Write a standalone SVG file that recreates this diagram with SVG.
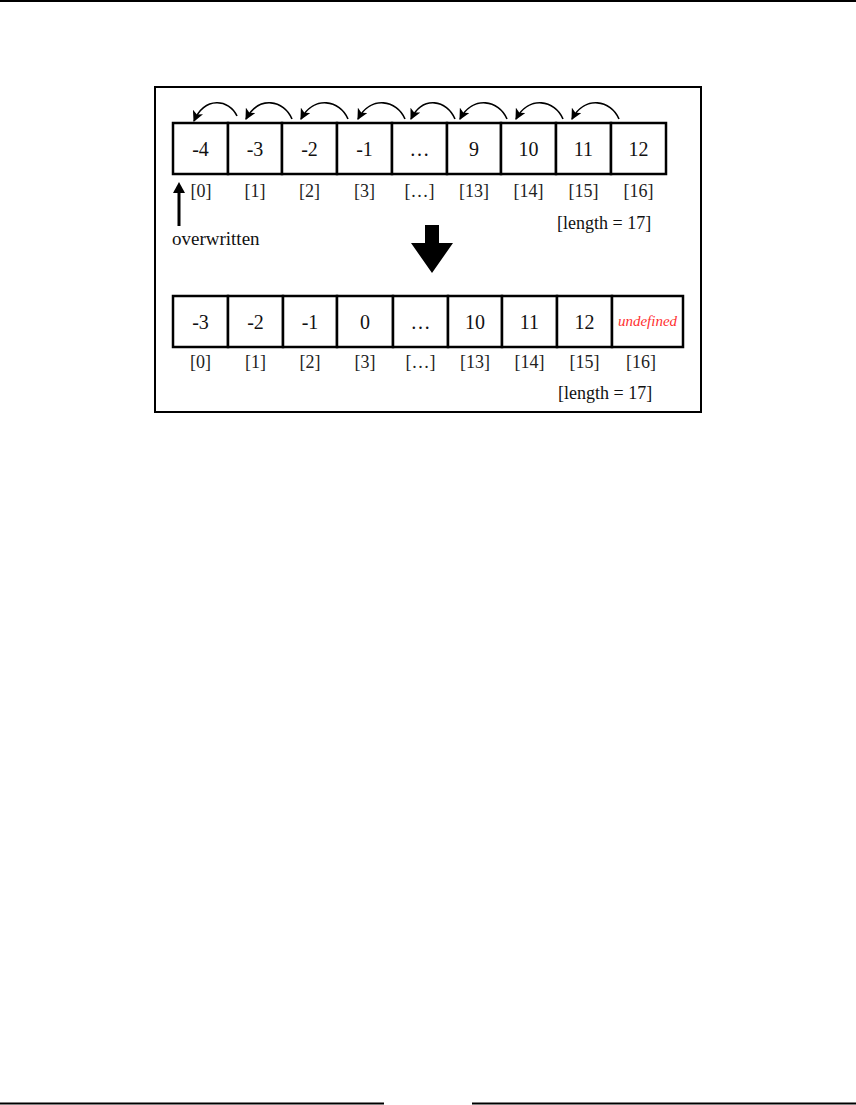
<svg xmlns="http://www.w3.org/2000/svg" width="856" height="1105" viewBox="0 0 856 1105">
<style>
.cell{fill:#fff;stroke:#000;stroke-width:2.5}
.v{font-family:"Liberation Serif",serif;font-size:20px;fill:#111;text-anchor:middle}
.i{font-family:"Liberation Serif",serif;font-size:18px;fill:#222;text-anchor:middle}
.t{font-family:"Liberation Serif",serif;font-size:18px;fill:#111}
.arc{fill:none;stroke:#000;stroke-width:1.6}
.und{font-family:"Liberation Serif",serif;font-size:15px;font-style:italic;fill:#ff3030;text-anchor:middle}
</style>
<defs>
<marker id="ah" markerUnits="userSpaceOnUse" markerWidth="11" markerHeight="11" refX="9" refY="5" viewBox="0 0 10 10" orient="auto">
<path d="M0,0 L10,5 L0,10 L2.5,5 z" fill="#000"/>
</marker>
</defs>
<rect x="0" y="0" width="856" height="2" fill="#000"/>
<rect x="0" y="1102.5" width="384" height="2" fill="#000"/>
<rect x="472" y="1102.5" width="384" height="2" fill="#000"/>
<rect x="155" y="87" width="546" height="325" fill="#fff" stroke="#000" stroke-width="2"/>

<g id="top-array">
<rect class="cell" x="173" y="123" width="55" height="51"/>
<rect class="cell" x="228" y="123" width="54" height="51"/>
<rect class="cell" x="282" y="123" width="55" height="51"/>
<rect class="cell" x="337" y="123" width="55" height="51"/>
<rect class="cell" x="392" y="123" width="55" height="51"/>
<rect class="cell" x="447" y="123" width="54" height="51"/>
<rect class="cell" x="501" y="123" width="55" height="51"/>
<rect class="cell" x="556" y="123" width="55" height="51"/>
<rect class="cell" x="611" y="123" width="55" height="51"/>
<text class="v" x="200.5" y="156">-4</text>
<text class="v" x="255" y="156">-3</text>
<text class="v" x="309.5" y="156">-2</text>
<text class="v" x="364.5" y="156">-1</text>
<text class="v" x="419.5" y="156">…</text>
<text class="v" x="474" y="156">9</text>
<text class="v" x="528.5" y="156">10</text>
<text class="v" x="583.5" y="156">11</text>
<text class="v" x="638.5" y="156">12</text>
<text class="i" x="201" y="197">[0]</text>
<text class="i" x="255" y="197">[1]</text>
<text class="i" x="309.5" y="197">[2]</text>
<text class="i" x="364.5" y="197">[3]</text>
<text class="i" x="419.5" y="197">[…]</text>
<text class="i" x="474" y="197">[13]</text>
<text class="i" x="528.5" y="197">[14]</text>
<text class="i" x="583.5" y="197">[15]</text>
<text class="i" x="638.5" y="197">[16]</text>
<text class="t" x="557" y="229">[length = 17]</text>
</g>

<g id="overwritten">
<polygon points="173,193 185,193 179,182" fill="#000"/>
<rect x="177.5" y="192" width="3" height="34" fill="#000"/>
<text class="t" x="172" y="245" style="font-size:19px">overwritten</text>
</g>

<g id="shift-arrow">
<polygon points="425,225 439,225 439,243 453,243 432,273 411,243 425,243" fill="#000"/>
</g>

<g id="bottom-array">
<rect class="cell" x="173" y="296" width="55" height="51"/>
<rect class="cell" x="228" y="296" width="55" height="51"/>
<rect class="cell" x="283" y="296" width="54" height="51"/>
<rect class="cell" x="337" y="296" width="56" height="51"/>
<rect class="cell" x="393" y="296" width="55" height="51"/>
<rect class="cell" x="448" y="296" width="54" height="51"/>
<rect class="cell" x="502" y="296" width="55" height="51"/>
<rect class="cell" x="557" y="296" width="55" height="51"/>
<rect class="cell" x="612" y="296" width="71" height="51"/>
<text class="v" x="200.5" y="329">-3</text>
<text class="v" x="255.5" y="329">-2</text>
<text class="v" x="310" y="329">-1</text>
<text class="v" x="365" y="329">0</text>
<text class="v" x="420.5" y="329">…</text>
<text class="v" x="475" y="329">10</text>
<text class="v" x="529.5" y="329">11</text>
<text class="v" x="584.5" y="329">12</text>
<text class="und" x="647.5" y="326">undefined</text>
<text class="i" x="200.5" y="368">[0]</text>
<text class="i" x="255.5" y="368">[1]</text>
<text class="i" x="310" y="368">[2]</text>
<text class="i" x="365" y="368">[3]</text>
<text class="i" x="420.5" y="368">[…]</text>
<text class="i" x="475" y="368">[13]</text>
<text class="i" x="529.5" y="368">[14]</text>
<text class="i" x="584.5" y="368">[15]</text>
<text class="i" x="641" y="368">[16]</text>
<text class="t" x="558" y="399">[length = 17]</text>
</g>

<g id="connectors">
<path class="arc" marker-end="url(#ah)" d="M237,116 C229,99 205,96 194,121"/>
<path class="arc" marker-end="url(#ah)" d="M292,119 C284,100 259,95 246,119"/>
<path class="arc" marker-end="url(#ah)" d="M348,119 C340,100 314,95 301,119"/>
<path class="arc" marker-end="url(#ah)" d="M405,119 C397,100 371,95 358,119"/>
<path class="arc" marker-end="url(#ah)" d="M455,119 C447,100 423,95 411,119"/>
<path class="arc" marker-end="url(#ah)" d="M507,119 C499,100 473,95 460,119"/>
<path class="arc" marker-end="url(#ah)" d="M563,119 C555,100 529,95 516,119"/>
<path class="arc" marker-end="url(#ah)" d="M619,119 C611,100 585,95 572,119"/>
</g>
</svg>
